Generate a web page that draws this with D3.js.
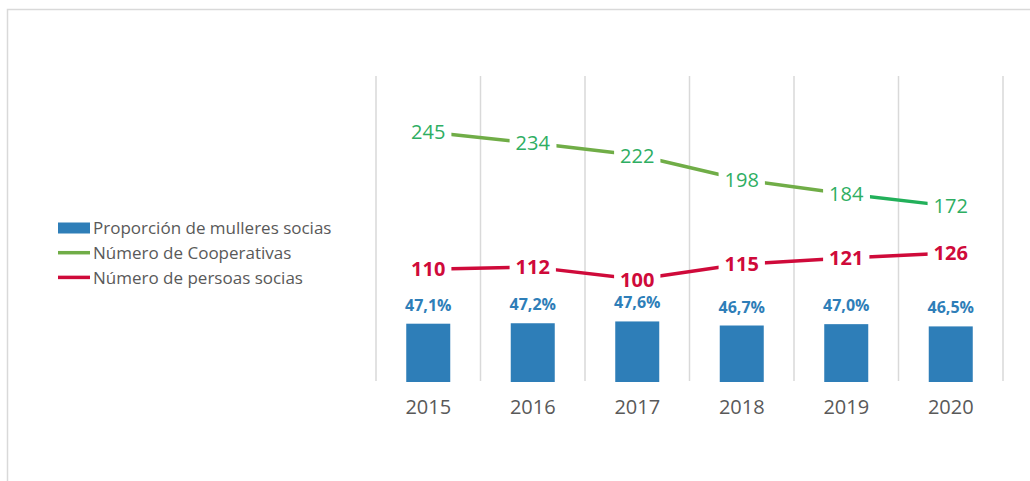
<!DOCTYPE html>
<html>
<head>
<meta charset="utf-8">
<script src="https://cdn.jsdelivr.net/npm/d3@7"></script>
<style>
  body { margin: 0; background: #fff; }
  svg { display: block; font-family: "Open Sans", Lato, sans-serif; }
</style>
</head>
<body>
<div class="content"></div>
<script>
// Data
var years = ["2015", "2016", "2017", "2018", "2019", "2020"];
var proporcionMulleres = [47.1, 47.2, 47.6, 46.7, 47.0, 46.5];
var numeroCooperativas = [245, 234, 222, 198, 184, 172];
var numeroPersoas = [110, 112, 100, 115, 121, 126];
var proporcionLabels = ["47,1%", "47,2%", "47,6%", "46,7%", "47,0%", "46,5%"];

var legendNames = [
  "Proporción de mulleres socias",
  "Número de Cooperativas",
  "Número de persoas socias"
];

var colors = {
  bar: "#2E7EB8",
  green: "#70AD47",
  greenLast: "#22B05A",
  greenText: "#2EAE62",
  red: "#CF0A3A",
  grid: "#D9D9D9",
  text: "#595959"
};

var W = 1030, H = 481;
var plot = {left: 376, right: 1003, top: 76, bottom: 381};

var svg = d3.select(".content").append("svg")
    .attr("width", W)
    .attr("height", H);

// outer frame (only top and left edges are visible)
svg.append("path")
    .attr("d", "M7.5," + H + " V9.5 H" + W)
    .style("fill", "none")
    .style("stroke", "#D9D9D9")
    .style("stroke-width", 1.5);

// scales
var x = d3.scaleBand()
    .domain(years)
    .range([plot.left, plot.right])
    .paddingInner(0)
    .paddingOuter(0);

var yLine = d3.scaleLinear()
    .domain([0, 300])
    .range([plot.bottom, plot.top]);

// secondary axis for the percentage bars
var yBar = d3.scaleLinear()
    .domain([34.4, 102])
    .range([plot.bottom, plot.top]);

var cx = function(d, i) { return x(years[i]) + x.bandwidth() / 2; };

// vertical gridlines at category boundaries
var gridX = years.map(function(y) { return x(y); }).concat([plot.right]);
svg.selectAll("line.grid")
  .data(gridX)
  .enter()
  .append("line")
    .attr("class", "grid")
    .attr("x1", function(d) { return d; })
    .attr("x2", function(d) { return d; })
    .attr("y1", plot.top)
    .attr("y2", plot.bottom)
    .style("stroke", colors.grid)
    .style("stroke-width", 1.5);

// bars
var barW = 44;
svg.selectAll("rect.bar")
  .data(proporcionMulleres)
  .enter()
  .append("rect")
    .attr("class", "bar")
    .attr("x", function(d, i) { return cx(d, i) - barW / 2; })
    .attr("y", function(d) { return yBar(d); })
    .attr("width", barW)
    .attr("height", function(d) { return yBar.range()[0] - yBar(d) + 1; })
    .style("fill", colors.bar);

// bar labels
svg.selectAll("text.barLabel")
  .data(proporcionMulleres)
  .enter()
  .append("text")
    .attr("class", "barLabel")
    .attr("x", cx)
    .attr("y", function(d) { return yBar(d) - 13; })
    .attr("text-anchor", "middle")
    .style("font-size", "16px")
    .style("font-weight", "bold")
    .style("fill", colors.bar)
    .text(function(d, i) { return proporcionLabels[i]; });

// lines, drawn as segments so the last green one can take its own colour
function drawSegments(values, cls, colorFn) {
  var segs = d3.pairs(values.map(function(v, i) { return [cx(v, i), yLine(v)]; }));
  svg.selectAll("line." + cls)
    .data(segs)
    .enter()
    .append("line")
      .attr("class", cls)
      .attr("x1", function(d) { return d[0][0]; })
      .attr("y1", function(d) { return d[0][1]; })
      .attr("x2", function(d) { return d[1][0]; })
      .attr("y2", function(d) { return d[1][1]; })
      .style("stroke", colorFn)
      .style("stroke-width", 3.5)
      .style("stroke-linecap", "butt");
}

drawSegments(numeroCooperativas, "greenSeg", function(d, i) {
  return i === numeroCooperativas.length - 2 ? colors.greenLast : colors.green;
});
drawSegments(numeroPersoas, "redSeg", function() { return colors.red; });

// line labels with a white box behind them, centred on the points
function drawPointLabels(values, cls, color, weight) {
  var g = svg.selectAll("g." + cls)
    .data(values)
    .enter()
    .append("g")
      .attr("class", cls)
      .attr("transform", function(d, i) { return "translate(" + cx(d, i) + "," + yLine(d) + ")"; });

  g.append("text")
      .attr("text-anchor", "middle")
      .attr("dy", "0.36em")
      .style("font-size", "20px")
      .style("font-weight", weight)
      .style("fill", color)
      .text(function(d) { return d; });

  g.each(function() {
    var bb = d3.select(this).select("text").node().getBBox();
    d3.select(this).insert("rect", "text")
      .attr("x", bb.x - 6)
      .attr("y", bb.y + 2)
      .attr("width", bb.width + 12)
      .attr("height", bb.height - 4)
      .style("fill", "#fff");
  });
}

drawPointLabels(numeroCooperativas, "greenLabel", colors.greenText, "normal");
drawPointLabels(numeroPersoas, "redLabel", colors.red, "bold");

// category axis labels
svg.selectAll("text.year")
  .data(years)
  .enter()
  .append("text")
    .attr("class", "year")
    .attr("x", function(d) { return x(d) + x.bandwidth() / 2; })
    .attr("y", 414)
    .attr("text-anchor", "middle")
    .style("font-size", "20px")
    .style("fill", colors.text)
    .text(function(d) { return d; });

// legend
var legend = svg.append("g")
    .attr("transform", "translate(58,228)");

var legendItems = legend.selectAll("g")
  .data(legendNames)
  .enter()
  .append("g")
    .attr("transform", function(d, i) { return "translate(0," + (i * 24.7) + ")"; });

legendItems.each(function(d, i) {
  var item = d3.select(this);
  if (i === 0) {
    item.append("rect")
      .attr("x", 0)
      .attr("y", -5.5)
      .attr("width", 32)
      .attr("height", 11)
      .style("fill", colors.bar);
  } else {
    item.append("line")
      .attr("x1", 0)
      .attr("x2", 32)
      .style("stroke", i === 1 ? colors.green : colors.red)
      .style("stroke-width", 3.5);
  }
  item.append("text")
    .attr("x", 35)
    .attr("dy", "0.36em")
    .style("font-size", "17px")
    .style("fill", colors.text)
    .text(d);
});
</script>
</body>
</html>
